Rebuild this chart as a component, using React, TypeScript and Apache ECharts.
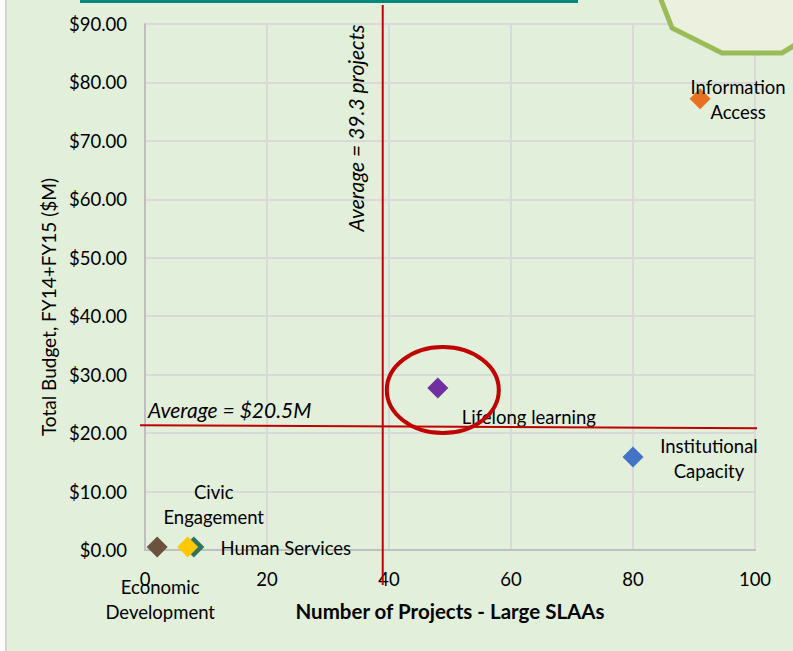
import React, { useEffect, useRef } from "react";
import * as echarts from "echarts";

const categories = [
  "Information Access",
  "Lifelong learning",
  "Institutional Capacity",
  "Human Services",
  "Civic Engagement",
  "Economic Development",
];
const projects = [91, 48, 80, 8, 7, 2];
const budgets = [77.2, 27.7, 15.9, 0.5, 0.5, 0.5];
const pointLabels = [
  "Information\nAccess",
  "Lifelong learning",
  "Institutional\nCapacity",
  "Human Services",
  "Civic\nEngagement",
  "Economic\nDevelopment",
];
const avgProjects = 39.3;
const avgBudget = 20.5;
const xTicks = [0, 20, 40, 60, 80, 100];
const yTicks = [0, 10, 20, 30, 40, 50, 60, 70, 80, 90];

const colors = ["#E8701E", "#7030A0", "#4472C4", "#2E7360", "#FFC800", "#6B5140"];
const labelOffsets: number[][] = [
  [38, 1],
  [91, 29],
  [76, 1],
  [92, 1],
  [26, -43],
  [3, 52],
];

const FONT = "Lato, 'Noto Sans', sans-serif";
const TXT = "#000000";

export default function App() {
  const ref = useRef<HTMLDivElement>(null);
  useEffect(() => {
    document.body.style.margin = "0";
    const chart = echarts.init(ref.current!, undefined, { renderer: "svg" });
    const scatterData = categories.map((c, i) => ({
      name: c,
      value: [projects[i], budgets[i]],
      itemStyle: { color: colors[i], opacity: 1 },
      label: {
        show: true,
        formatter: pointLabels[i],
        position: "inside",
        offset: labelOffsets[i],
        align: "center",
        verticalAlign: "middle",
        color: TXT,
        opacity: 1,
        textBorderWidth: 0,
        fontSize: 18.5,
        lineHeight: 25,
        fontFamily: FONT,
      },
    }));
    const lifelongIdx = categories.indexOf("Lifelong learning");
    chart.setOption({
      animation: false,
      backgroundColor: "#ffffff",
      textStyle: { fontFamily: FONT },
      graphic: [
        { type: "rect", z: -10, shape: { x: 5, y: 0, width: 788, height: 651 }, style: { fill: "#E2EFDA" } },
        { type: "rect", z: -10, shape: { x: 5, y: 0, width: 2, height: 651 }, style: { fill: "#D4D4D4" } },
        { type: "rect", z: 100, shape: { x: 80, y: 0, width: 498, height: 3 }, style: { fill: "#00897B" } },
        {
          type: "polygon",
          z: 100,
          shape: { points: [[660, -10], [660, -3], [672, 28], [722, 53], [782, 53], [800, 42], [800, -10]] },
          style: { fill: "#EBF1DE", stroke: "#9BBB59", lineWidth: 5 },
        },
      ],
      grid: { left: 145, right: 38, top: 24, bottom: 101, containLabel: false },
      xAxis: {
        type: "value",
        min: xTicks[0],
        max: xTicks[xTicks.length - 1],
        interval: 20,
        name: "Number of Projects - Large SLAAs",
        nameLocation: "middle",
        nameGap: 50,
        nameTextStyle: { fontSize: 20.5, fontWeight: "bold", color: TXT, fontFamily: FONT },
        axisLine: { show: true, lineStyle: { color: "#BFBFBF", width: 2 } },
        axisTick: { show: false },
        axisLabel: { fontSize: 18.5, color: TXT, margin: 19, fontFamily: FONT },
        splitLine: { show: true, lineStyle: { color: "#D9D9D9", width: 2 } },
      },
      yAxis: {
        type: "value",
        min: yTicks[0],
        max: yTicks[yTicks.length - 1],
        interval: 10,
        name: "Total Budget, FY14+FY15 ($M)",
        nameLocation: "middle",
        nameGap: 86,
        nameTextStyle: { fontSize: 19, color: TXT, fontFamily: FONT, padding: [0, 40, 0, 0] },
        axisLine: { show: true, lineStyle: { color: "#BFBFBF", width: 2 } },
        axisTick: { show: false },
        axisLabel: {
          fontSize: 18.5,
          color: TXT,
          margin: 18,
          fontFamily: FONT,
          formatter: (v: number) => "$" + v.toFixed(2),
        },
        splitLine: { show: true, lineStyle: { color: "#D9D9D9", width: 2 } },
      },
      series: [
        {
          type: "scatter",
          symbol: "diamond",
          symbolSize: 21,
          itemStyle: { opacity: 1 },
          data: scatterData,
          z: 5,
        },
        {
          type: "custom",
          z: 10,
          clip: false,
          silent: true,
          data: [[avgProjects, avgBudget]],
          renderItem: (params: any, api: any) => {
            const cs = params.coordSys;
            const vx = api.coord([api.value(0), 0])[0];
            const hy = api.coord([0, api.value(1)])[1];
            const ll = api.coord([projects[lifelongIdx], budgets[lifelongIdx]]);
            return {
              type: "group",
              children: [
                {
                  type: "line",
                  shape: { x1: vx - 2, y1: cs.y - 19, x2: vx - 2, y2: cs.y + cs.height + 35 },
                  style: { stroke: "#C00000", lineWidth: 2 },
                },
                {
                  type: "line",
                  shape: { x1: cs.x - 5, y1: hy - 5, x2: cs.x + cs.width + 2, y2: hy - 2 },
                  style: { stroke: "#C00000", lineWidth: 2 },
                },
                {
                  type: "text",
                  x: cs.x + 3,
                  y: hy - 21,
                  style: {
                    text: "Average = $" + api.value(1) + "M",
                    fontSize: 21,
                    fontStyle: "italic",
                    fontFamily: FONT,
                    fill: TXT,
                    verticalAlign: "middle",
                  },
                },
                {
                  type: "text",
                  x: vx - 29,
                  y: cs.y + 104,
                  rotation: Math.PI / 2,
                  style: {
                    text: "Average = " + api.value(0) + " projects",
                    fontSize: 21,
                    fontStyle: "italic",
                    fontFamily: FONT,
                    fill: TXT,
                    align: "center",
                    verticalAlign: "middle",
                  },
                },
                {
                  type: "ellipse",
                  shape: { cx: ll[0] + 5, cy: ll[1] + 2, rx: 56, ry: 43 },
                  style: { fill: "none", stroke: "#C00000", lineWidth: 4 },
                },
              ],
            };
          },
        },
      ],
    });
    return () => chart.dispose();
  }, []);
  return (
    <div
      ref={ref}
      style={{ position: "absolute", left: 0, top: 0, width: 793, height: 651 }}
    />
  );
}
